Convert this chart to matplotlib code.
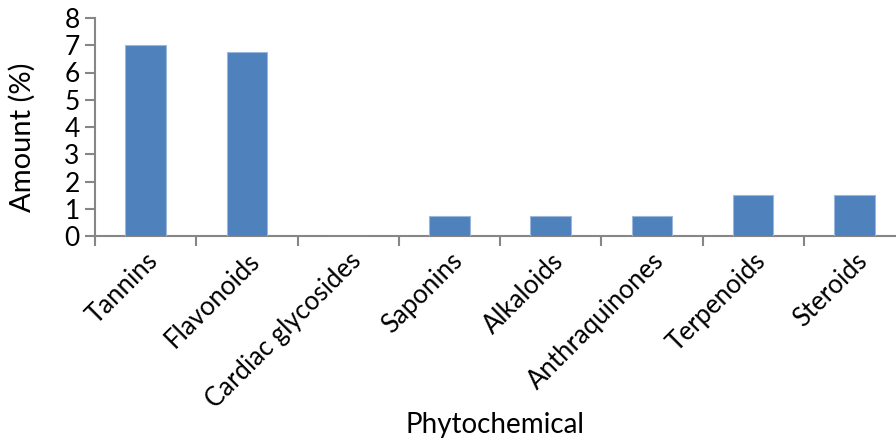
import matplotlib
matplotlib.use("Agg")
import matplotlib.pyplot as plt
import numpy as np

categories = ["Tannins", "Flavonoids", "Cardiac glycosides", "Saponins",
              "Alkaloids", "Anthraquinones", "Terpenoids", "Steroids"]
values = [7.0, 6.75, 0.0, 0.75, 0.75, 0.75, 1.5, 1.5]
yticks = [0, 1, 2, 3, 4, 5, 6, 7, 8]

plt.rcParams['font.family'] = ['Lato', 'DejaVu Sans']

W, H = 896, 441
fig = plt.figure(figsize=(W / 100, H / 100), dpi=100)
left, right, bottom, top = 95, 905, 236, 18
ax = fig.add_axes([left / W, 1 - bottom / H, (right - left) / W, (bottom - top) / H])

x = np.arange(len(categories))
ax.bar(x, values, width=0.4, color="#4F81BD", edgecolor="#9BB7DC", linewidth=0.8, zorder=3)

ax.set_xlim(-0.5, len(categories) - 0.5)
ax.set_ylim(0, 8)
ax.set_yticks(yticks)
ax.set_yticklabels([str(t) for t in yticks], fontsize=19)

gray = "#868686"
for s in ["top", "right"]:
    ax.spines[s].set_visible(False)
for s in ["left", "bottom"]:
    ax.spines[s].set_color(gray)
    ax.spines[s].set_linewidth(1.5)

ax.tick_params(axis="y", direction="out", length=7, width=1.5, color=gray, pad=4)
ax.set_xticks(np.arange(len(categories) + 1) - 0.5, minor=False)
ax.set_xticklabels([])
ax.tick_params(axis="x", which="major", direction="out", length=7, width=1.5, color=gray)
ax.set_xticks(x, minor=True)
ax.set_xticklabels(categories, minor=True, rotation=45, ha="right",
                   rotation_mode="anchor", fontsize=18.5)
ax.tick_params(axis="x", which="minor", length=0, pad=9)

ax.set_ylabel("Amount (%)", fontsize=21)
ax.yaxis.set_label_coords((36 - left) / (right - left), (bottom - 137) / (bottom - top))
fig.text(495 / W, 1 - 425 / H, "Phytochemical", fontsize=20, ha="center", va="center")

fig.savefig("out.png", dpi=100)
